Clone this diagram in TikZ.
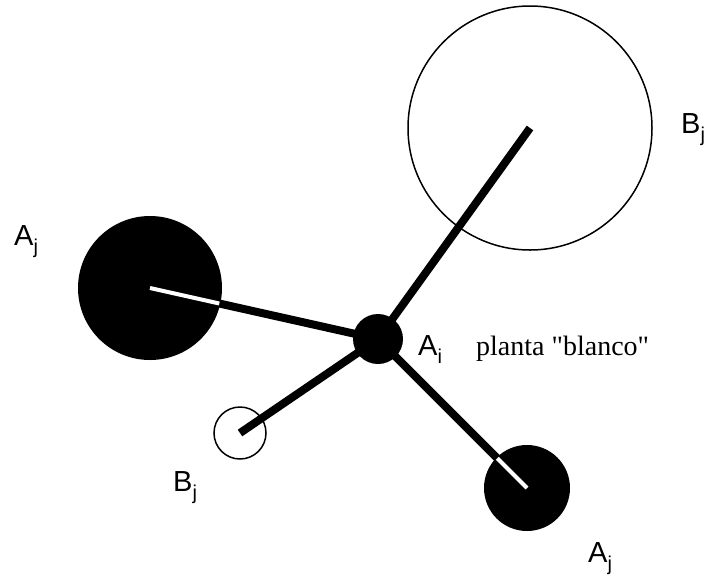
\documentclass[tikz,border=0pt]{standalone}
\usepackage{fontspec}
\newfontfamily\lserif{Liberation Serif}
\newfontfamily\lsans{Liberation Sans}
\usetikzlibrary{calc}
\newcommand{\lbl}[2]{{\lsans\fontsize{29}{29}\selectfont #1}\raisebox{-8pt}{\lsans\fontsize{20}{20}\selectfont #2}}
\begin{document}
\begin{tikzpicture}[x=1pt,y=-1pt,
  spoke/.style={line width=8pt},
  innerline/.style={white,line width=4pt},
  plant/.style={circle,fill=black,inner sep=0pt},
  ring/.style={circle,draw=black,line width=1.5pt,inner sep=0pt},
  lab/.style={inner sep=0pt,anchor=base west}]
\useasboundingbox (0,0) rectangle (710,574);
% circles
\node[plant,minimum size=50pt] (ai) at (378,339) {};
\node[plant,minimum size=144pt] (ajl) at (150,288) {};
\node[plant,minimum size=86pt] (ajr) at (527,488) {};
\node[ring,minimum size=244pt] (bjt) at (530,128) {};
\node[ring,minimum size=52pt] (bjb) at (240,433) {};
% spokes
\draw[spoke] (ai.center) -- (bjt.center);
\draw[spoke] (ai.center) -- (bjb.center);
\draw[spoke] (ai.center) -- (ajl.center);
\draw[spoke] (ai.center) -- (ajr.center);
% white parts inside the black circles
\draw[innerline] (ajl.center) -- ($(ajl.center)!71pt!(ai.center)$);
\draw[innerline] (ajr.center) -- ($(ajr.center)!42pt!(ai.center)$);
% labels
\node[lab] (lajl) at (14,245) {\lbl{A}{j}};
\node[lab] (lbjt) at (681,133) {\lbl{B}{j}};
\node[lab] (lbjb) at (173,491) {\lbl{B}{j}};
\node[lab] (lajr) at (588,562) {\lbl{A}{j}};
\node[lab] (lai) at (418,355) {\lbl{A}{i}};
\node[lab] (lpl) at (476,355) {\lserif\fontsize{28}{28}\selectfont planta "blanco"};
\end{tikzpicture}
\end{document}
